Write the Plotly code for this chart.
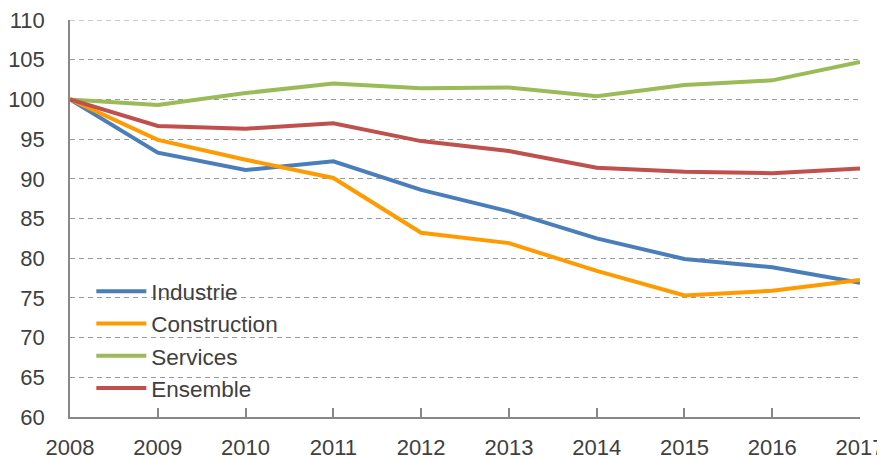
import plotly.graph_objects as go

years = [2008, 2009, 2010, 2011, 2012, 2013, 2014, 2015, 2016, 2017]
industrie = [100, 93.3, 91.1, 92.2, 88.6, 85.9, 82.5, 79.9, 78.85, 76.9]
construction = [100, 94.9, 92.4, 90.1, 83.2, 81.9, 78.4, 75.3, 75.9, 77.25]
services = [100, 99.3, 100.8, 102.0, 101.4, 101.5, 100.4, 101.8, 102.4, 104.7]
ensemble = [100, 96.65, 96.3, 97.0, 94.75, 93.5, 91.4, 90.9, 90.7, 91.3]

series_names = ["Industrie", "Construction", "Services", "Ensemble"]
series_values = [industrie, construction, services, ensemble]
colors = ["#4A7EBB", "#FF9B00", "#9BBB59", "#C0504D"]

y_ticks = list(range(60, 111, 5))

fig = go.Figure()
for name, vals, col in zip(series_names, series_values, colors):
    fig.add_trace(go.Scatter(x=years, y=vals, name=name, mode="lines",
                             line=dict(color=col, width=4)))

# top gridline (plotly hides the grid line lying on the plot edge)
fig.add_shape(type="line", xref="paper", x0=0, x1=1, yref="y",
              y0=y_ticks[-1], y1=y_ticks[-1], layer="below",
              line=dict(color="#9a9a9a", width=1, dash="5px,4px"))

font_family = "Liberation Sans, Arial, sans-serif"
fig.update_layout(
    width=885, height=459,
    margin=dict(l=62, r=33, t=12, b=50),
    plot_bgcolor="white", paper_bgcolor="white",
    font=dict(family=font_family, color="#404040", size=22),
    showlegend=True,
    legend=dict(x=0.027, y=0.37, xanchor="left", yanchor="top",
                bgcolor="rgba(0,0,0,0)", font=dict(size=22.5, color="#404040"),
                tracegroupgap=0, itemwidth=50),
)
fig.update_xaxes(
    range=[2008, 2017], tickvals=years, ticktext=[str(y) for y in years],
    showgrid=False, showline=True, linecolor="#888888", linewidth=1.5,
    ticks="inside", ticklen=9, tickcolor="#888888", tickwidth=1.5,
    tickfont=dict(size=22, color="#404040"), ticklabelstandoff=10,
    ticklabeloverflow="allow",
    zeroline=False, fixedrange=True, automargin=False,
)
fig.update_yaxes(
    range=[60, 110], tickvals=y_ticks, ticktext=[str(v) for v in y_ticks],
    showgrid=True, gridcolor="#9a9a9a", griddash="5px,4px", gridwidth=1,
    showline=True, linecolor="#888888", linewidth=1.5,
    ticks="", tickfont=dict(size=22, color="#404040"), ticklabelstandoff=19,
    ticklabeloverflow="allow",
    zeroline=False, fixedrange=True, automargin=False,
)
fig.write_html("out.html")
